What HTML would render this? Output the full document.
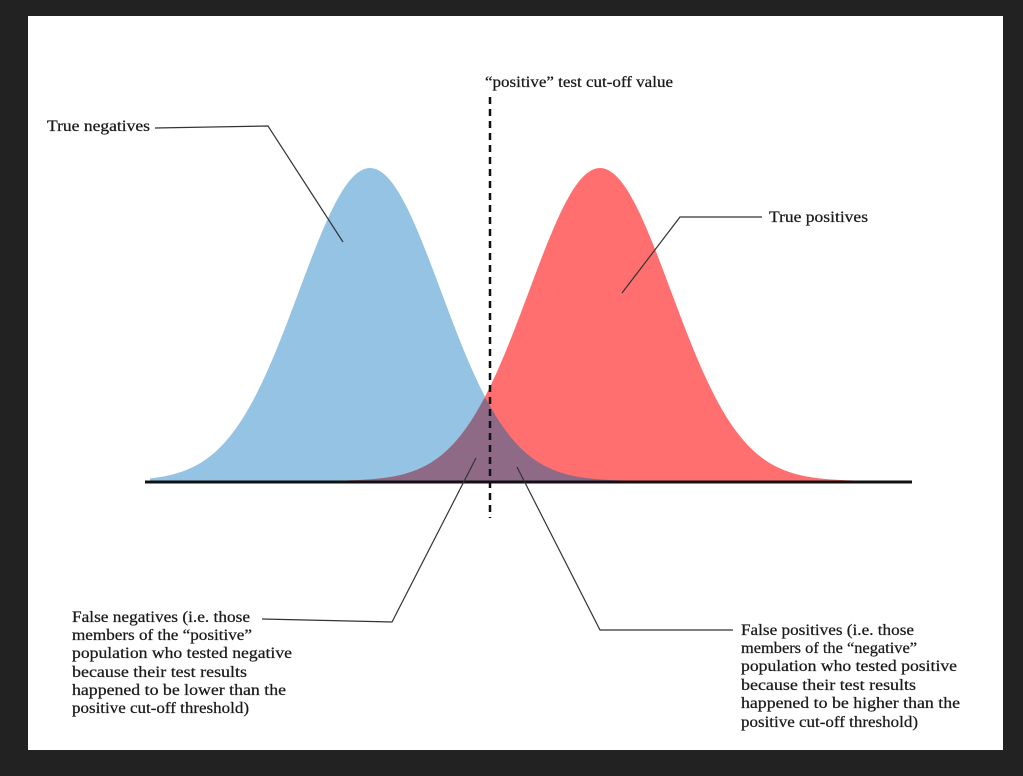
<!DOCTYPE html>
<html><head><meta charset="utf-8"><style>
html,body{margin:0;padding:0;background:#222;}
svg{display:block}
text{font-family:"Liberation Serif",serif;font-size:15.5px;fill:#1a1a1a;stroke:#1a1a1a;stroke-width:0.25px;}
</style></head><body>
<svg id="s" width="1023" height="776" viewBox="0 0 1023 776" xmlns="http://www.w3.org/2000/svg">
<rect x="0" y="0" width="1023" height="776" fill="#222"/>
<rect x="28" y="16" width="975" height="734" fill="#fff"/>
<path id="blue" fill="#95c3e3"/>
<path id="red" fill="#ff6f70"/>
<path id="ov" fill="#8e6a87"/>
<line x1="145" y1="482" x2="912" y2="482" stroke="#111" stroke-width="3"/>
<line x1="490" y1="97" x2="490" y2="518" stroke="#111" stroke-width="2.5" stroke-dasharray="7,5"/>
<g fill="none" stroke="#333" stroke-width="1.2">
<polyline points="155,128 268,126 343,242"/>
<polyline points="762,217 680,217 622,293"/>
<polyline points="262,619 392,622 476,458"/>
<polyline points="733,630 600,630 517,467"/>
</g>
<text x="485" y="87" textLength="188" lengthAdjust="spacingAndGlyphs">“positive” test cut-off value</text>
<text x="47" y="131" textLength="103" lengthAdjust="spacingAndGlyphs">True negatives</text>
<text x="769" y="222" textLength="99" lengthAdjust="spacingAndGlyphs">True positives</text>
<text x="72" y="622" textLength="178" lengthAdjust="spacingAndGlyphs">False negatives (i.e. those</text>
<text x="72" y="640" textLength="180" lengthAdjust="spacingAndGlyphs">members of the “positive”</text>
<text x="72" y="658" textLength="220" lengthAdjust="spacingAndGlyphs">population who tested negative</text>
<text x="72" y="677" textLength="175" lengthAdjust="spacingAndGlyphs">because their test results</text>
<text x="72" y="695" textLength="214" lengthAdjust="spacingAndGlyphs">happened to be lower than the</text>
<text x="72" y="713" textLength="177" lengthAdjust="spacingAndGlyphs">positive cut-off threshold)</text>
<text x="741" y="635" textLength="173" lengthAdjust="spacingAndGlyphs">False positives (i.e. those</text>
<text x="741" y="653" textLength="176" lengthAdjust="spacingAndGlyphs">members of the “negative”</text>
<text x="741" y="671" textLength="216" lengthAdjust="spacingAndGlyphs">population who tested positive</text>
<text x="741" y="690" textLength="175" lengthAdjust="spacingAndGlyphs">because their test results</text>
<text x="741" y="708" textLength="219" lengthAdjust="spacingAndGlyphs">happened to be higher than the</text>
<text x="741" y="727" textLength="177" lengthAdjust="spacingAndGlyphs">positive cut-off threshold)</text>
</svg>
<script>
(function(){
var base=481,H=313,s=71;
function g(m,x){return base-H*Math.exp(-(x-m)*(x-m)/(2*s*s));}
function path(f){var d="M150,"+base;for(var x=150;x<=910;x+=2){d+=" L"+x+","+f(x).toFixed(2);}return d+" L910,"+base+" Z";}
document.getElementById("blue").setAttribute("d",path(function(x){return g(370,x);}));
document.getElementById("red").setAttribute("d",path(function(x){return g(600,x);}));
document.getElementById("ov").setAttribute("d",path(function(x){return Math.max(g(370,x),g(600,x));}));
})();
</script>
</body></html>
